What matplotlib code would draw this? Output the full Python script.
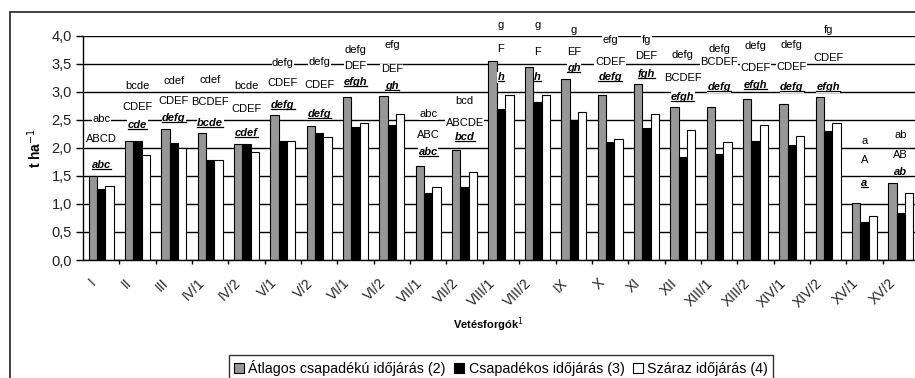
import matplotlib
matplotlib.use("Agg")
import matplotlib.pyplot as plt
from matplotlib.patches import Patch, Rectangle
from matplotlib.lines import Line2D
from matplotlib.transforms import ScaledTranslation
import numpy as np

# --- data -------------------------------------------------------------
rotations = ["I", "II", "III", "IV/1", "IV/2", "V/1", "V/2", "VI/1", "VI/2",
             "VII/1", "VII/2", "VIII/1", "VIII/2", "IX", "X", "XI", "XII",
             "XIII/1", "XIII/2", "XIV/1", "XIV/2", "XV/1", "XV/2"]

avg_weather = [1.50, 2.13, 2.33, 2.26, 2.07, 2.58, 2.39, 2.90, 2.92, 1.68, 1.96,
               3.54, 3.44, 3.23, 2.95, 3.13, 2.72, 2.72, 2.87, 2.78, 2.90, 1.01, 1.38]
wet_weather = [1.27, 2.13, 2.08, 1.79, 2.06, 2.13, 2.27, 2.38, 2.41, 1.20, 1.31,
               2.70, 2.82, 2.50, 2.11, 2.35, 1.84, 1.89, 2.13, 2.05, 2.30, 0.67, 0.84]
dry_weather = [1.32, 1.88, 2.00, 1.79, 1.92, 2.13, 2.20, 2.45, 2.61, 1.31, 1.57,
               2.95, 2.95, 2.64, 2.15, 2.60, 2.32, 2.10, 2.40, 2.21, 2.45, 0.78, 1.20]

# significance letters (top: lowercase, middle: uppercase, bottom: underlined)
letters_top = ["abc", "bcde", "cdef", "cdef", "bcde", "defg", "defg", "defg", "efg",
               "abc", "bcd", "g", "g", "g", "efg", "fg", "defg", "defg", "defg",
               "defg", "fg", "a", "ab"]
letters_mid = ["ABCD", "CDEF", "CDEF", "BCDEF", "CDEF", "CDEF", "CDEF", "DEF", "DEF",
               "ABC", "ABCDE", "F", "F", "EF", "CDEF", "DEF", "BCDEF", "BCDEF", "CDEF",
               "CDEF", "CDEF", "A", "AB"]
letters_bot = ["abc", "cde", "defg", "bcde", "cdef", "defg", "defg", "efgh", "gh",
               "abc", "bcd", "h", "h", "gh", "defg", "fgh", "efgh", "defg", "efgh",
               "defg", "efgh", "a", "ab"]

series_names = ["Átlagos csapadékú időjárás (2)",
                "Csapadékos időjárás (3)",
                "Száraz időjárás (4)"]

# --- label placement (heights of letter rows, t/ha) --------------------
top_y = [2.51, 3.11, 3.19, 3.21, 3.11, 3.52, 3.53, 3.74, 3.83, 2.60, 2.84, 4.19,
         4.19, 4.11, 3.93, 3.93, 3.65, 3.77, 3.82, 3.83, 4.11, 2.13, 2.23]
mid_y = [2.16, 2.73, 2.83, 2.82, 2.69, 3.15, 3.12, 3.46, 3.40, 2.23, 2.45, 3.77,
         3.71, 3.71, 3.53, 3.64, 3.24, 3.53, 3.43, 3.44, 3.61, 1.78, 1.87]
bot_y = [1.69, 2.41, 2.54, 2.45, 2.27, 2.76, 2.60, 3.18, 3.10, 1.93, 2.19, 3.26,
         3.27, 3.43, 3.27, 3.32, 2.91, 3.08, 3.12, 3.08, 3.08, 1.38, 1.57]

plt.rcParams["font.family"] = ["Liberation Sans", "DejaVu Sans"]

W, H = 915, 378
fig = plt.figure(figsize=(W / 100, H / 100), dpi=100)
fig.patch.set_facecolor("white")

x_left, x_right, y_top, y_bot = 83, 919, 35.7, 260
ax = fig.add_axes([x_left / W, 1 - y_bot / H, (x_right - x_left) / W, (y_bot - y_top) / H])

x = np.arange(len(rotations))
bw = 0.23
colors = ["#979797", "#000000", "#ffffff"]
for off, vals, col, name in zip((-bw, 0, bw), (avg_weather, wet_weather, dry_weather),
                                colors, series_names):
    ax.bar(x + off, vals, bw, color=col, edgecolor="black", linewidth=0.8,
           label=name, zorder=2)

ax.set_xlim(-0.5, len(rotations) - 0.5)
ax.set_ylim(0, 4.0)
yt = np.arange(0, 4.01, 0.5)
ax.set_yticks(yt)
ax.set_yticklabels([f"{v:.1f}".replace(".", ",") for v in yt], fontsize=10.5,
                   color="#222222")
ax.yaxis.grid(True, color="black", linewidth=1.0)
ax.set_axisbelow(True)
for s in ("top", "right"):
    ax.spines[s].set_visible(False)
for s in ("left", "bottom"):
    ax.spines[s].set_linewidth(1.0)
ax.tick_params(axis="y", length=5, width=1.0, pad=3)

ax.set_xticks(x)
ax.set_xticks(x[:-1] + 0.5, minor=True)
ax.tick_params(axis="x", which="major", length=0, pad=15)
ax.tick_params(axis="x", which="minor", length=3, width=1.0)
ax.set_xticklabels(rotations, fontsize=10, color="#222222")
shift = ScaledTranslation(-8 / 100, 0, fig.dpi_scale_trans)
for lab in ax.get_xticklabels():
    lab.set_rotation(45)
    lab.set_ha("right")
    lab.set_va("center")
    lab.set_rotation_mode("anchor")
    lab.set_transform(lab.get_transform() + shift)

ax.set_ylabel("t ha$^{-1}$", fontsize=10, fontweight="bold", labelpad=5)
fig.text(488 / W, 1 - 325 / H, "Vetésforgók$^{1}$", ha="center", va="center",
         fontsize=8, fontweight="bold")

# significance letters
box = dict(facecolor="white", edgecolor="none", pad=0.3)
under = []
for i in range(len(rotations)):
    ax.text(i, top_y[i], letters_top[i], ha="center", va="center", fontsize=8,
            bbox=box, zorder=4, clip_on=False)
    ax.text(i, mid_y[i], letters_mid[i], ha="center", va="center", fontsize=8,
            bbox=box, zorder=4, clip_on=False)
    t = ax.text(i, bot_y[i], letters_bot[i], ha="center", va="center", fontsize=8,
                fontweight="bold", style="italic", bbox=box, zorder=4, clip_on=False)
    under.append(t)

# outer chart frame
fig.add_artist(Rectangle((9.5 / W, -0.2), 2.0, 1.2 - 12.3 / H, transform=fig.transFigure,
                         fill=False, edgecolor="#222222", linewidth=1.2))

# legend
handles = [Patch(facecolor=c, edgecolor="black", linewidth=0.8) for c in colors]
leg = fig.legend(handles, series_names, ncol=3, loc="upper left",
                 bbox_to_anchor=(229 / W, 1 - 355 / H), frameon=True, fancybox=False,
                 edgecolor="black", fontsize=10.3, handlelength=0.7, handleheight=0.7,
                 handletextpad=0.3, columnspacing=0.6, borderpad=0.35,
                 borderaxespad=0)
leg.get_frame().set_linewidth(1.0)

# underline the bottom row of letters
fig.canvas.draw()
renderer = fig.canvas.get_renderer()
for t in under:
    bb = t.get_window_extent(renderer)
    yy = (bb.y0 + 1.0) / H
    fig.add_artist(Line2D([bb.x0 / W, bb.x1 / W], [yy, yy], transform=fig.transFigure,
                          color="black", linewidth=0.9, zorder=5))

fig.savefig("out.png", dpi=100)
